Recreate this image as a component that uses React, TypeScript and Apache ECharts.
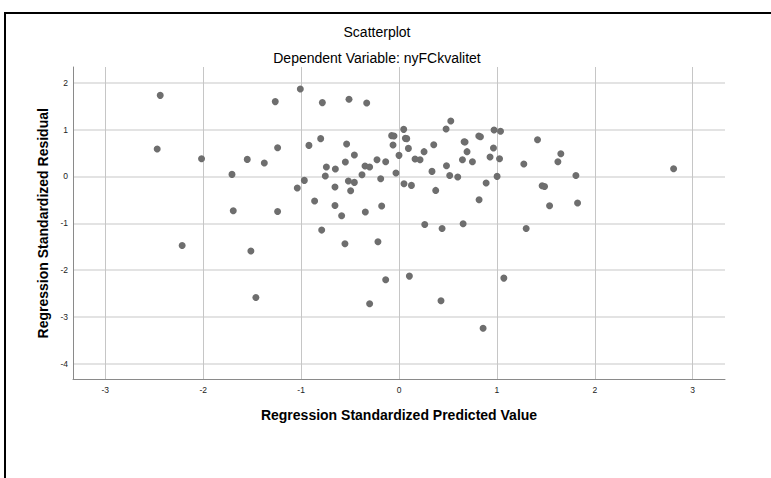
import React, { useEffect, useRef } from "react";
import * as echarts from "echarts";

const FONT = "'Liberation Sans', Arial, Helvetica, sans-serif";

const titleText = "Scatterplot";
const subtitleText = "Dependent Variable: nyFCkvalitet";
const xAxisName = "Regression Standardized Predicted Value";
const yAxisName = "Regression Standardized Residual";

const X_MIN = -3.33;
const X_MAX = 3.33;
const Y_MIN = -4.335;
const Y_MAX = 2.335;

const predictedValues = [
  -2.439, -2.47, -2.017, -1.706, -1.55, -1.376, -1.264, -1.24, -1.693, -1.24,
  -2.215, -1.513, -1.462, -1.008, -0.783, -0.511, -0.33, 0.048, -0.075, -0.051,
  0.065, 0.079, -0.92, -0.8, -0.535, -0.456, -0.061, 0.096, 0.256, 0.0,
  0.164, 0.215, -0.742, -0.65, -0.548, -0.225, -0.136, -0.347, -0.3, -0.753,
  -0.378, -0.031, -0.967, -1.039, -0.517, -0.456, -0.187, -0.654, -0.494, 0.051,
  0.127, -0.862, -0.654, -0.177, -0.586, -0.344, 0.263, -0.79, -0.552, -0.215,
  -0.136, 0.106, -0.3, 0.529, 0.481, 0.971, 1.037, 1.415, 0.665, 0.675,
  0.815, 0.832, 0.355, 0.695, 0.965, 1.653, 1.623, 0.648, 0.75, 0.93,
  1.027, 1.275, 0.337, 0.485, 0.518, 0.6, 1.002, 1.807, 0.89, 0.375,
  1.462, 1.487, 0.818, 1.538, 1.824, 0.44, 0.655, 1.299, 1.071, 0.429,
  0.859, 2.805,
];

const residualValues = [
  1.73, 0.585, 0.378, 0.043, 0.363, 0.286, 1.596, 0.613, -0.733, -0.748,
  -1.474, -1.594, -2.585, 1.867, 1.575, 1.645, 1.568, 1.004, 0.87, 0.863,
  0.812, 0.806, 0.662, 0.806, 0.692, 0.457, 0.671, 0.598, 0.528, 0.449,
  0.372, 0.357, 0.2, 0.158, 0.308, 0.357, 0.314, 0.222, 0.2, 0.009,
  0.036, 0.073, -0.085, -0.248, -0.098, -0.128, -0.049, -0.226, -0.306, -0.156,
  -0.192, -0.526, -0.62, -0.633, -0.84, -0.761, -1.026, -1.146, -1.438, -1.395,
  -2.207, -2.128, -2.72, 1.183, 1.013, 0.991, 0.962, 0.784, 0.741, 0.735,
  0.863, 0.848, 0.677, 0.528, 0.607, 0.485, 0.314, 0.357, 0.314, 0.415,
  0.378, 0.265, 0.107, 0.229, 0.021, -0.013, 0.0, 0.021, -0.141, -0.299,
  -0.199, -0.214, -0.498, -0.626, -0.568, -1.111, -1.011, -1.111, -2.171, -2.656,
  -3.24, 0.165,
];

const intLabel = (v: number) =>
  Math.abs(v - Math.round(v)) < 1e-6 ? String(Math.round(v)) : "";

export default function App() {
  const ref = useRef<HTMLDivElement>(null);

  useEffect(() => {
    if (!ref.current) return;
    const chart = echarts.init(ref.current, null, { renderer: "svg" });
    const data = predictedValues.map((x, i) => [x, residualValues[i]]);

    chart.setOption({
      animation: false,
      backgroundColor: "transparent",
      textStyle: { fontFamily: FONT },
      title: [
        {
          text: titleText,
          left: 372,
          top: 20,
          textAlign: "center",
          textStyle: { fontFamily: FONT, fontSize: 14, fontWeight: "normal", color: "#000" },
        },
        {
          text: subtitleText,
          left: 372,
          top: 46,
          textAlign: "center",
          textStyle: { fontFamily: FONT, fontSize: 14, fontWeight: "normal", color: "#000" },
        },
      ],
      grid: {
        left: 73,
        right: 46,
        top: 67,
        bottom: 98.5,
        containLabel: false,
        outerBoundsMode: "none",
      },
      xAxis: {
        type: "value",
        min: X_MIN,
        max: X_MAX,
        name: xAxisName,
        nameLocation: "middle",
        nameGap: 28,
        nameTextStyle: { fontFamily: FONT, fontSize: 14, fontWeight: "bold", color: "#000" },
        axisLine: { show: true, onZero: false, lineStyle: { color: "#8a8a8a", width: 1 } },
        axisTick: { show: false },
        axisLabel: {
          fontFamily: FONT,
          fontSize: 8.5,
          color: "#222",
          margin: 6,
          showMinLabel: false,
          showMaxLabel: false,
          formatter: intLabel,
        },
        splitLine: {
          show: true,
          showMinLine: false,
          showMaxLine: false,
          lineStyle: { color: "#c6c6c6", width: 1 },
        },
      },
      yAxis: {
        type: "value",
        min: Y_MIN,
        max: Y_MAX,
        name: yAxisName,
        nameLocation: "middle",
        nameGap: 22,
        nameTextStyle: { fontFamily: FONT, fontSize: 14, fontWeight: "bold", color: "#000" },
        axisLine: { show: true, onZero: false, lineStyle: { color: "#8a8a8a", width: 1 } },
        axisTick: { show: false },
        axisLabel: {
          fontFamily: FONT,
          fontSize: 8.5,
          color: "#222",
          margin: 5,
          showMinLabel: false,
          showMaxLabel: false,
          formatter: intLabel,
        },
        splitLine: {
          show: true,
          showMinLine: false,
          showMaxLine: false,
          lineStyle: { color: "#dadada", width: 1.5 },
        },
      },
      series: [
        {
          type: "scatter",
          data,
          symbol: "circle",
          symbolSize: 7,
          silent: true,
          itemStyle: { color: "#6e6e6e", opacity: 1 },
        },
      ],
    });

    return () => chart.dispose();
  }, []);

  return (
    <div style={{ position: "absolute", left: 0, top: 0, width: 771, height: 478, background: "#fff" }}>
      <div ref={ref} style={{ position: "absolute", left: 0, top: 0, width: 771, height: 478 }} />
      <div
        style={{
          position: "absolute",
          left: 4,
          top: 12,
          width: 767,
          height: 466,
          borderLeft: "2px solid #000",
          borderTop: "2px solid #000",
          boxSizing: "border-box",
          pointerEvents: "none",
        }}
      />
    </div>
  );
}
